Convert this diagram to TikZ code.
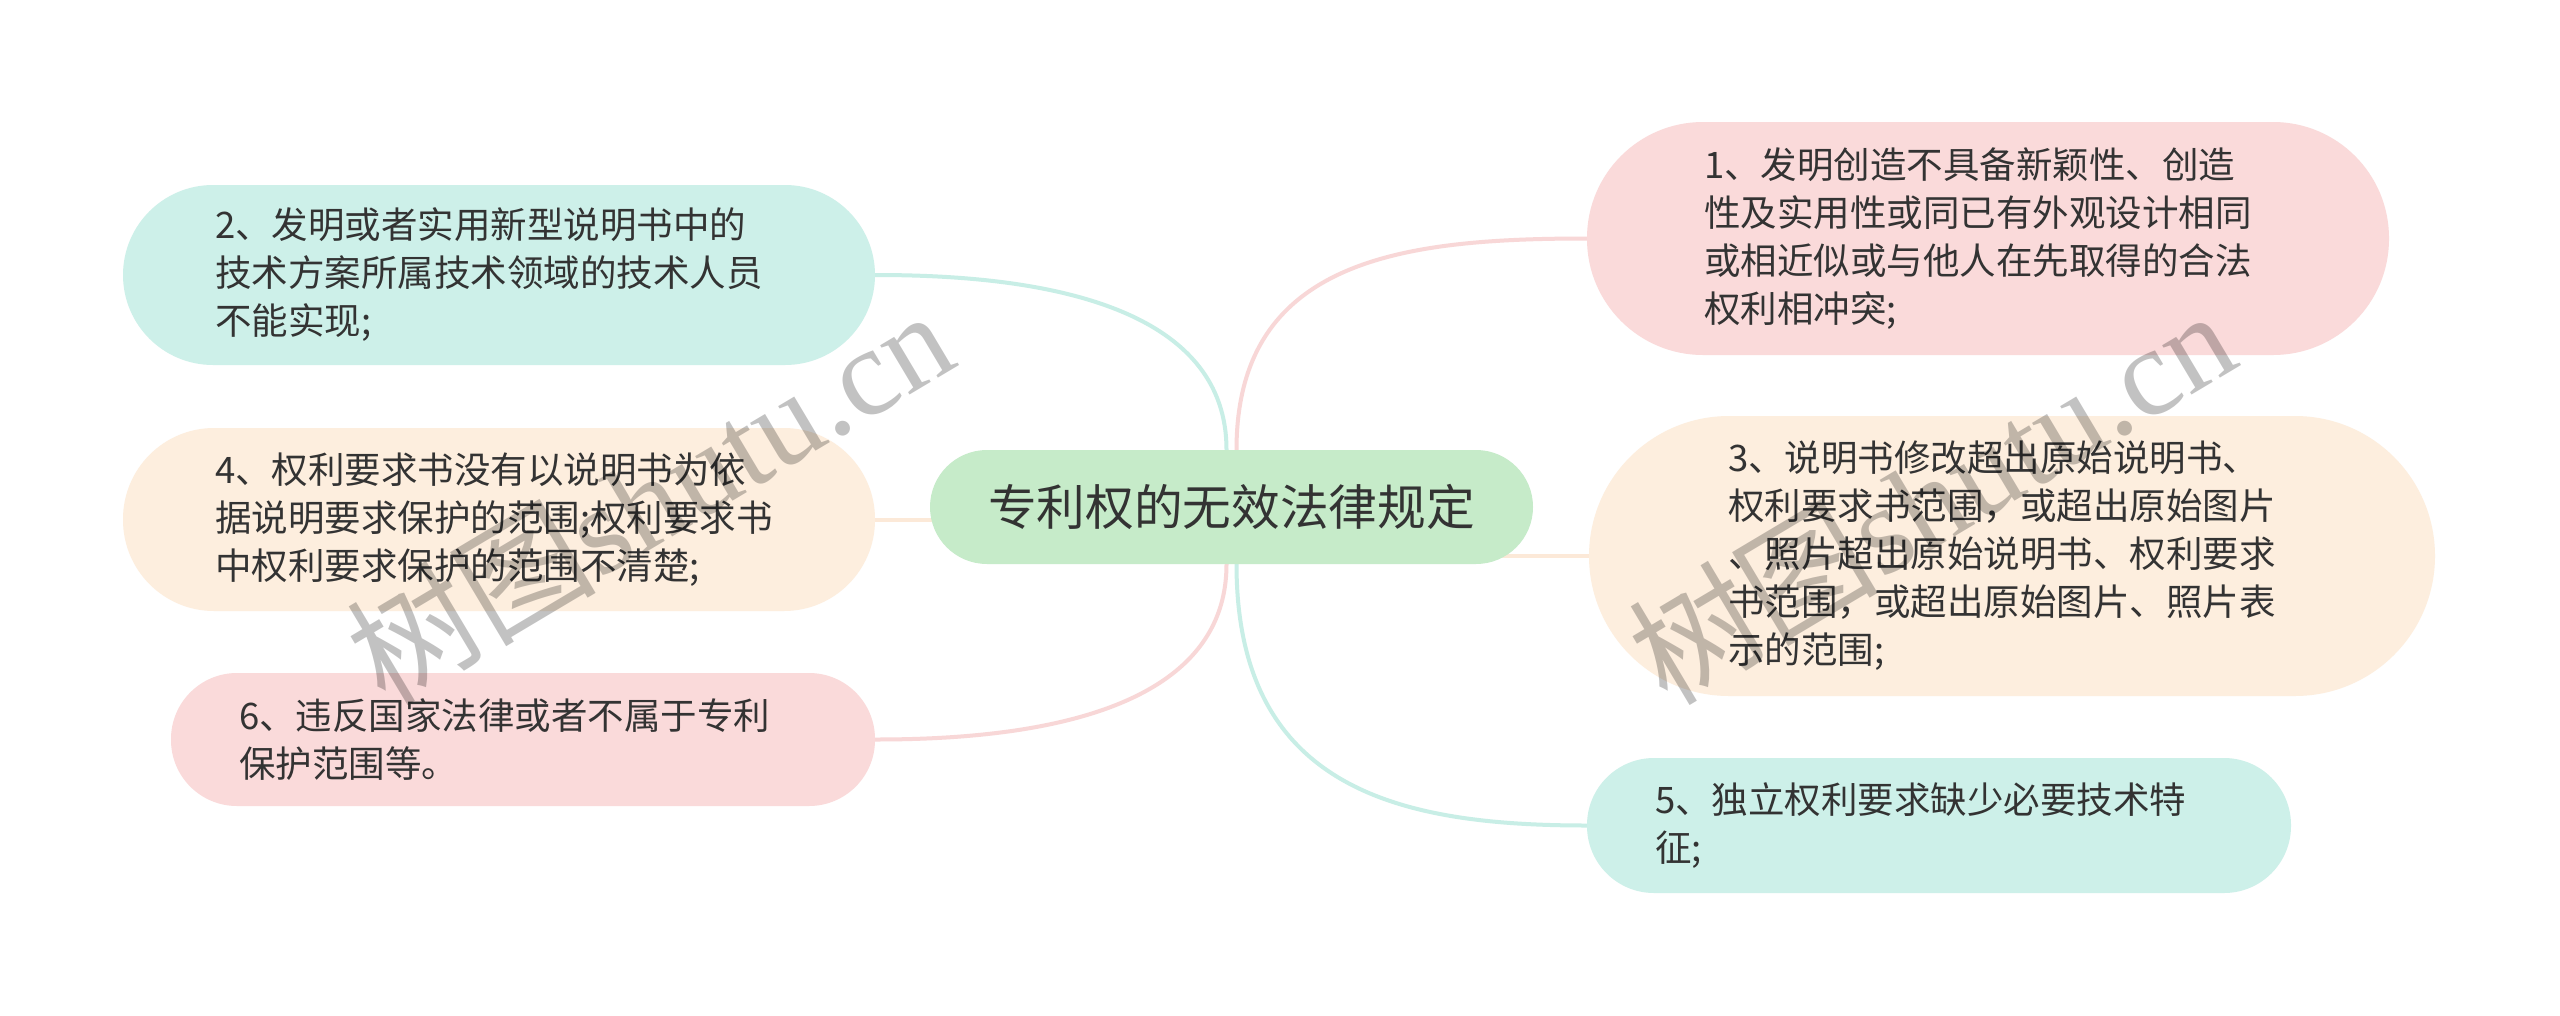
\documentclass[tikz,border=0pt]{standalone}
\usepackage{fontspec}
\setmainfont{Noto Sans CJK SC}
\newfontfamily\wmcjk{Noto Sans CJK SC}
\newfontfamily\wmlat{Liberation Serif}
\usetikzlibrary{backgrounds}
\definecolor{tealfill}{RGB}{205,240,233}
\definecolor{peachfill}{RGB}{253,238,222}
\definecolor{pinkfill}{RGB}{250,218,218}
\definecolor{greenfill}{RGB}{198,235,201}
\definecolor{tealline}{RGB}{200,238,230}
\definecolor{peachline}{RGB}{252,233,216}
\definecolor{pinkline}{RGB}{248,215,215}
\definecolor{txt}{RGB}{51,51,51}
\begin{document}
\begin{tikzpicture}[x=1pt,y=-1pt,
  leaf/.style={draw=none, text width=568pt, align=left, inner ysep=0pt,
    font=\fontsize{36.5pt}{48pt}\selectfont, text=txt},
  root/.style={draw=none, fill=greenfill, minimum width=603pt, minimum height=114pt,
    rounded corners=57pt, font=\fontsize{48.7pt}{58pt}\selectfont, text=txt, inner sep=0pt},
  conn/.style={line width=4pt},
  wm/.style={font=\fontsize{125pt}{130pt}\selectfont, text=black, text opacity=0.24, inner sep=0pt}]
\useasboundingbox (0,0) rectangle (2560,1015);

\node[root] (c) at (1231.5,507) {专利权的无效法律规定};

\node[leaf, fill=tealfill, minimum height=180pt, rounded corners=90pt, inner xsep=92pt] (n2) at (499,275)
  {2、发明或者实用新型说明书中的\\技术方案所属技术领域的技术人员\\不能实现;};
\node[leaf, fill=peachfill, minimum height=183pt, rounded corners=91pt, inner xsep=92pt] (n4) at (499,519.5)
  {4、权利要求书没有以说明书为依\\据说明要求保护的范围;权利要求书\\中权利要求保护的范围不清楚;};
\node[leaf, fill=pinkfill, minimum height=133pt, rounded corners=66pt, inner xsep=68pt] (n6) at (523,739.5)
  {6、违反国家法律或者不属于专利\\保护范围等。};
\node[leaf, fill=pinkfill, minimum height=233pt, rounded corners=116pt, inner xsep=117pt] (n1) at (1988,238.5)
  {1、发明创造不具备新颖性、创造\\性及实用性或同已有外观设计相同\\或相近似或与他人在先取得的合法\\权利相冲突;};
\node[leaf, fill=peachfill, minimum height=280pt, rounded corners=140pt, inner xsep=139pt] (n3) at (2012,556)
  {3、说明书修改超出原始说明书、\\权利要求书范围，或超出原始图片\\、照片超出原始说明书、权利要求\\书范围，或超出原始图片、照片表\\示的范围;};
\node[leaf, fill=tealfill, minimum height=135pt, rounded corners=67pt, inner xsep=68pt] (n5) at (1939,825.5)
  {5、独立权利要求缺少必要技术特\\征;};

\coordinate (clt) at ([xshift=-5pt]c.north);
\coordinate (crt) at ([xshift=5pt]c.north);
\coordinate (clb) at ([xshift=-5pt]c.south);
\coordinate (crb) at ([xshift=5pt]c.south);

\begin{scope}[on background layer]
\fill[white] (0,0) rectangle (2560,1015);
\draw[conn, tealline] (clt) .. controls +(0,-160) and +(123,0) .. (n2.east);
\draw[conn, pinkline] (clb) .. controls +(0,160) and +(123,0) .. (n6.east);
\draw[conn, peachline] (c.center |- n4.east) -- (n4.east);
\draw[conn, pinkline] (crt) .. controls +(0,-190) and +(-186,0) .. (n1.west);
\draw[conn, peachline] (c.center |- n3.west) -- (n3.west);
\draw[conn, tealline] (crb) .. controls +(0,226) and +(-186,0) .. (n5.west);
\end{scope}

\node[wm, rotate=30.8, anchor=base west] (wm1) at (385,708) {\wmcjk 树图\wmlat shutu.cn};
\node[wm, rotate=30.8, anchor=base west] (wm2) at (1667,708) {\wmcjk 树图\wmlat shutu.cn};
\end{tikzpicture}
\end{document}
